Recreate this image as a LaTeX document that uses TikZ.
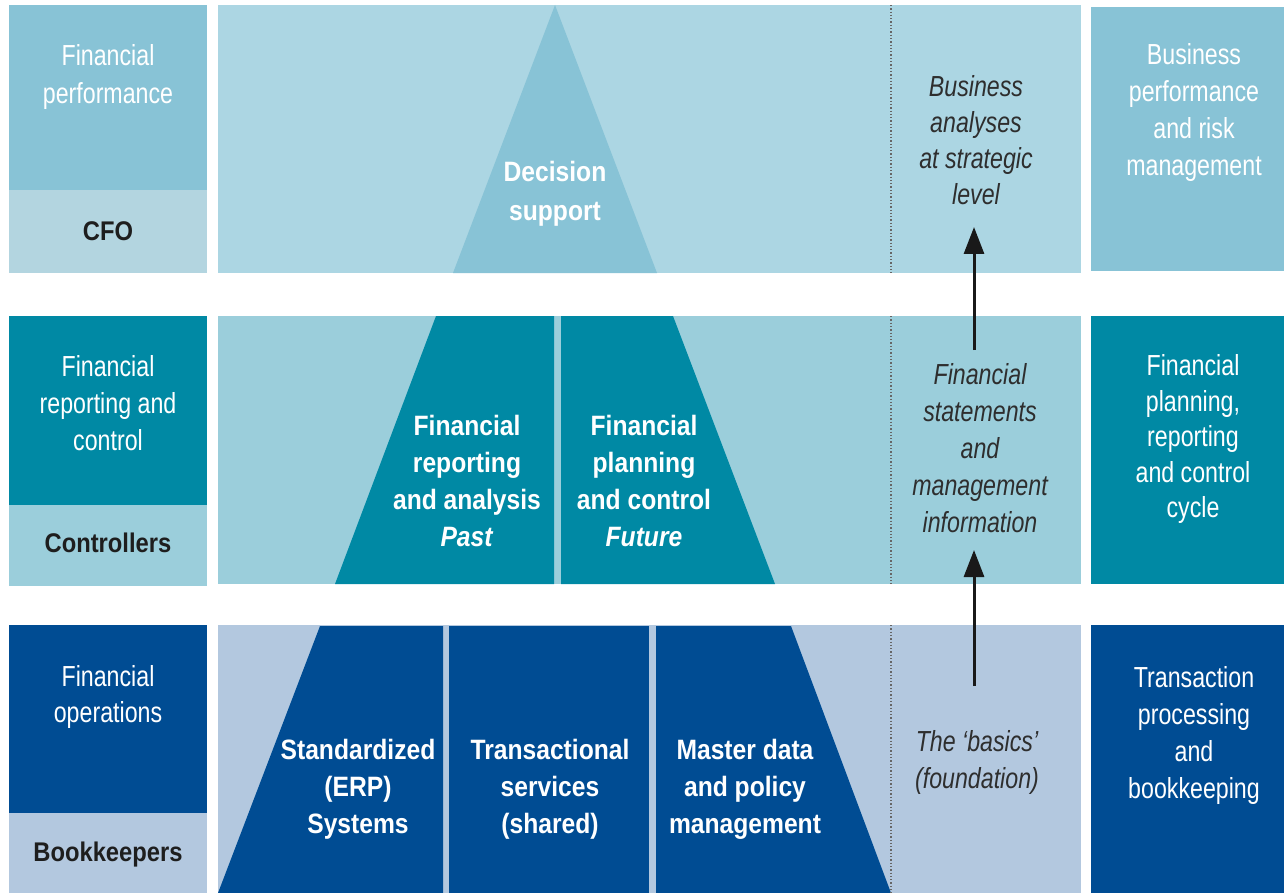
\documentclass[tikz,border=0pt]{standalone}
\usepackage{fontspec}
\setmainfont{Liberation Sans}[FakeStretch=0.8]
\newfontfamily\boldf{Liberation Sans}[FakeStretch=0.88]
\usetikzlibrary{arrows.meta}
\definecolor{lvA}{HTML}{88C3D6}
\definecolor{lvAl}{HTML}{B3D5E0}
\definecolor{lvAbg}{HTML}{ACD6E3}
\definecolor{lvB}{HTML}{0089A4}
\definecolor{lvBl}{HTML}{9BCEDB}
\definecolor{lvC}{HTML}{004C93}
\definecolor{lvCl}{HTML}{B3C8DF}
\definecolor{italtxt}{HTML}{2E2E2E}
\definecolor{roletxt}{HTML}{1E1E1E}
\tikzset{
  txt/.style={inner sep=0pt, align=center, text=white, font=\fontsize{29}{37}\selectfont},
  btxt/.style={inner sep=0pt, align=center, text=white, font=\boldf\bfseries\fontsize{28}{37}\selectfont},
  role/.style={inner sep=0pt, align=center, text=roletxt, font=\boldf\bfseries\fontsize{27}{34}\selectfont},
  itxt/.style={inner sep=0pt, align=center, text=italtxt, font=\itshape\fontsize{29}{37}\selectfont},
  dotline/.style={draw=gray!80!black, dotted, line width=1.3pt},
  arr/.style={draw=black!90, line width=3pt, -{Triangle[width=20pt,length=27pt]}}
}
\begin{document}
\begin{tikzpicture}[x=1pt,y=-1pt]
\useasboundingbox (0,0) rectangle (1284,893);
% ---------- Row 1 ----------
\fill[lvA] (9,5) rectangle (207,190);
\fill[lvAl] (9,190) rectangle (207,273);
\fill[lvAbg] (218,5) rectangle (1081,273);
\fill[lvA] (453,273) -- (555,5) -- (657,273) -- cycle;
\fill[lvA] (1091,7) rectangle (1284,271);
\draw[dotline] (891,5) -- (891,273);
% ---------- Row 2 ----------
\fill[lvB] (9,316) rectangle (207,505);
\fill[lvBl] (9,505) rectangle (207,586);
\fill[lvBl] (218,316) rectangle (1081,584);
\fill[lvB] (335,584) -- (436,316) -- (554,316) -- (554,584) -- cycle;
\fill[lvB] (561,316) -- (673,316) -- (775,584) -- (561,584) -- cycle;
\fill[lvB] (1091,316) rectangle (1284,584);
\draw[dotline] (891,316) -- (891,584);
% ---------- Row 3 ----------
\fill[lvC] (9,625) rectangle (207,813);
\fill[lvCl] (9,813) rectangle (207,893);
\fill[lvCl] (218,625) rectangle (1081,893);
\fill[lvC] (218,893) -- (320,626) -- (443,626) -- (443,893) -- cycle;
\fill[lvC] (449,626) rectangle (649,893);
\fill[lvC] (656,626) -- (791,626) -- (891,893) -- (656,893) -- cycle;
\fill[lvC] (1091,625) rectangle (1284,893);
\draw[dotline] (891,625) -- (891,893);
% ---------- Texts row 1 ----------
\node[txt, font=\fontsize{29}{38}\selectfont] (finperf) at (108,77) {Financial\\performance};
\node[role] (cfo) at (108,231) {CFO};
\node[btxt, font=\boldf\bfseries\fontsize{28}{39}\selectfont] (decision) at (555,194) {Decision\\support};
\node[itxt, font=\itshape\fontsize{29}{36}\selectfont] (busan) at (976,140) {Business\\analyses\\at strategic\\level};
\node[txt, font=\fontsize{29}{37}\selectfont] (busperf) at (1194,113) {Business\\performance\\and risk\\management};
% ---------- Texts row 2 ----------
\node[txt] (finrep) at (108,403) {Financial\\reporting and\\control};
\node[role] (controllers) at (108,543) {Controllers};
\node[btxt] (past) at (467,481) {Financial\\reporting\\and analysis\\\textit{Past}};
\node[btxt] (future) at (644,481) {Financial\\planning\\and control\\\textit{Future}};
\node[itxt] (finstat) at (980,448) {Financial\\statements\\and\\management\\information};
\node[txt, font=\fontsize{29}{35.5}\selectfont] (cycle) at (1193,439) {Financial\\planning,\\reporting\\and control\\cycle};
% ---------- Texts row 3 ----------
\node[txt, font=\fontsize{29}{36}\selectfont] (finops) at (108,697) {Financial\\operations};
\node[role] (bookkeepers) at (108,855) {Bookkeepers};
\node[btxt] (erp) at (358,789) {Standardized\\(ERP)\\Systems};
\node[btxt] (trans) at (550,789) {Transactional\\services\\(shared)};
\node[btxt] (master) at (745,789) {Master data\\and policy\\management};
\node[itxt] (basics) at (977,762) {The `basics'\\(foundation)};
\node[txt] (txproc) at (1194,735) {Transaction\\processing\\and\\bookkeeping};
% ---------- Arrows ----------
\coordinate (a1s) at (974,686);
\coordinate (a1e) at (974,550);
\coordinate (a2s) at (974,350);
\coordinate (a2e) at (974,227);
\draw[arr] (a1s) -- (a1e);
\draw[arr] (a2s) -- (a2e);
\end{tikzpicture}
\end{document}
